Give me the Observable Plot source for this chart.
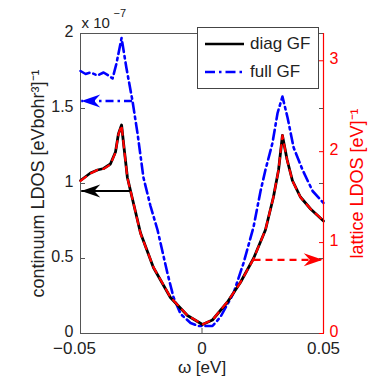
<!DOCTYPE html>
<html><head><meta charset="utf-8">
<script src="https://cdn.jsdelivr.net/npm/d3@7"></script>
<script src="https://cdn.jsdelivr.net/npm/@observablehq/plot@0.6"></script>
<style>
body{margin:0;background:#fff;}
#wrap{position:relative;width:371px;height:379px;font-family:"Liberation Sans",Arial,sans-serif;color:#222;}
#wrap > svg{position:absolute;left:0;top:0;}
#legend{position:absolute;left:197px;top:27px;width:120px;height:60px;border:1px solid #444;background:#fff;font-size:17px;}
#legend .row{position:absolute;left:0;height:20px;display:flex;align-items:center;}
#legend svg{display:block;}
#legend span{margin-left:5px;}
</style></head><body><div id="wrap"></div>
<script>
// ---- data ----
const omegaDiag = [-0.05,-0.0459,-0.0430,-0.0405,-0.0377,-0.0356,-0.0344,-0.0331,-0.0323,-0.0307,-0.0294,-0.0253,-0.0200,-0.0130,-0.0060,0.0002,0.0043,0.0105,0.0158,0.0212,0.0261,0.0294,0.0315,0.0331,0.0350,0.0372,0.0405,0.0447,0.0500];
const diagGF     = [1.02,1.07,1.09,1.10,1.13,1.21,1.33,1.39,1.27,1.04,0.95,0.67,0.44,0.24,0.12,0.06,0.09,0.21,0.34,0.50,0.69,0.91,1.09,1.32,1.16,1.02,0.91,0.83,0.75];
const latticeGF  = [1.68,1.76,1.80,1.81,1.86,1.99,2.19,2.29,2.09,1.71,1.57,1.10,0.73,0.40,0.20,0.10,0.15,0.35,0.56,0.82,1.14,1.50,1.80,2.18,1.91,1.68,1.50,1.37,1.24];
const omegaFull = [-0.05,-0.0479,-0.0459,-0.0430,-0.0405,-0.0385,-0.0368,-0.0352,-0.0331,-0.0311,-0.0286,-0.0265,-0.0241,-0.0212,-0.0183,-0.0142,-0.0117,-0.0088,-0.0047,-0.0014,0.0014,0.0043,0.0076,0.0130,0.0171,0.0212,0.0241,0.0261,0.0290,0.0311,0.0331,0.0352,0.0377,0.0414,0.0455,0.0500];
const fullGF    = [1.75,1.73,1.74,1.72,1.74,1.72,1.70,1.80,1.97,1.77,1.55,1.33,1.04,0.85,0.69,0.40,0.24,0.13,0.07,0.05,0.05,0.05,0.11,0.27,0.47,0.71,0.95,1.09,1.27,1.47,1.58,1.44,1.24,1.09,0.95,0.87];
const xDomain = [-0.05, 0.05];
const xTicks = [-0.05, 0, 0.05];
const yLeftDomain = [0, 2];
const yLeftTicks = [0, 0.5, 1, 1.5, 2];
const yRightDomain = [0, 3.3];
const yRightTicks = [0, 1, 2, 3];
const arrowSeries = ["diag GF", "full GF"];
const arrowFrom = [-0.0294, -0.0288];
const arrowTo = [-0.0497, -0.0497];
const arrowLevel = [0.95, 1.55];
const latticeArrowFrom = [0.0212];
const latticeArrowTo = [0.0497];
const latticeArrowLevel = [0.81];

const diagData = omegaDiag.map((x,i)=>({x, y: diagGF[i]}));
const latticeData = omegaDiag.map((x,i)=>({x, y: latticeGF[i]}));
const fullData = omegaFull.map((x,i)=>({x, y: fullGF[i]}));
const contArrows = arrowSeries.map((s,i)=>({series:s, from:arrowFrom[i], to:arrowTo[i], y:arrowLevel[i]}));
const latArrows = latticeArrowFrom.map((f,i)=>({from:f, to:latticeArrowTo[i], y:latticeArrowLevel[i]}));

const head = {draw(ctx){ ctx.moveTo(0,0); ctx.lineTo(19,-6.5); ctx.lineTo(13,0); ctx.lineTo(19,6.5); ctx.closePath(); }};

const common = {width:371, height:379, marginTop:33, marginRight:48, marginBottom:46, marginLeft:80};
const font = "Liberation Sans, Arial, sans-serif";
const fmtX = d => d === 0 ? "0" : (d < 0 ? "\u2212" : "") + Math.abs(d).toFixed(2);

const p1 = Plot.plot({
  ...common,
  style:{fontFamily:font, fontSize:"17px", background:"white", color:"#222"},
  x:{domain:xDomain},
  y:{domain:yLeftDomain},
  marks:[
    Plot.frame({stroke:"#555"}),
    Plot.axisX({ticks:xTicks.filter(d=>d<0), tickFormat:fmtX, tickSize:0, tickPadding:8, dx:-6, label:null}),
    Plot.axisX({ticks:xTicks.filter(d=>d>=0), tickFormat:fmtX, tickSize:0, tickPadding:8, label:null}),
    Plot.axisX({ticks:xTicks, tickSize:-5, fill:"none", label:null, stroke:"#555"}),
    Plot.axisX({anchor:"top", ticks:xTicks, tickSize:-5, fill:"none", label:null, stroke:"#555"}),
    Plot.axisY({ticks:yLeftTicks, tickFormat:d=>String(d), tickSize:0, tickPadding:7, dy:-1.5, fontSize:16, label:null}),
    Plot.axisY({ticks:yLeftTicks, tickSize:-5, fill:"none", label:null, stroke:"#555"}),
    Plot.axisY({anchor:"right", ticks:yLeftTicks, tickSize:-5, fill:"none", label:null, stroke:"#555"}),
    Plot.line(fullData, {x:"x", y:"y", stroke:"#0000ff", strokeWidth:2.6, strokeDasharray:"10,4,2.5,4"}),
    Plot.line(diagData, {x:"x", y:"y", stroke:"black", strokeWidth:2.8}),
    Plot.link(contArrows.filter(d=>d.series==="diag GF"), {x1:"from", x2:"to", y1:"y", y2:"y", stroke:"black", strokeWidth:2.2}),
    Plot.link(contArrows.filter(d=>d.series==="full GF"), {x1:"from", x2:"to", y1:"y", y2:"y", stroke:"#0000ff", strokeWidth:2.4, strokeDasharray:"8,4,2.5,4"}),
    Plot.dot(contArrows, {x:"to", y:"y", symbol:head, fill:d=>d.series==="diag GF"?"black":"#0000ff", stroke:"none"}),
    Plot.text(["continuum LDOS [eVbohr\u00b3]\u207b\u00b9"], {frameAnchor:"left", textAnchor:"middle", lineAnchor:"middle", rotate:-90, dx:-42, fontSize:18, fill:"#222"}),
    Plot.text(["\u03c9 [eV]"], {frameAnchor:"bottom", textAnchor:"middle", lineAnchor:"middle", dy:34, fontSize:17, fill:"#222"}),
    Plot.text(["x 10"], {frameAnchor:"top-left", textAnchor:"start", lineAnchor:"bottom", dx:1, dy:-6, fontSize:15, fill:"#222"}),
    Plot.text(["\u22127"], {frameAnchor:"top-left", textAnchor:"start", lineAnchor:"bottom", dx:33, dy:-17, fontSize:11, fill:"#222"})
  ]
});

const p2 = Plot.plot({
  ...common,
  style:{fontFamily:font, fontSize:"17px", background:"transparent", color:"red"},
  x:{domain:xDomain, axis:null},
  y:{domain:yRightDomain, axis:null},
  marks:[
    Plot.ruleX([xDomain[1]], {stroke:"red", strokeWidth:1.2}),
    Plot.axisY({anchor:"right", ticks:yRightTicks, tickFormat:d=>String(d), tickSize:0, tickPadding:6, dy:-1.5, fontSize:16, label:null, fill:"red"}),
    Plot.axisY({anchor:"right", ticks:yRightTicks, tickSize:-5, fill:"none", label:null, stroke:"red"}),
    Plot.line(latticeData, {x:"x", y:"y", stroke:"red", strokeWidth:2.2, strokeDasharray:"7,6"}),
    Plot.link(latArrows, {x1:"from", x2:"to", y1:"y", y2:"y", stroke:"red", strokeWidth:2.2, strokeDasharray:"7,5"}),
    Plot.dot(latArrows, {x:"to", y:"y", symbol:head, rotate:180, fill:"red", stroke:"none"}),
    Plot.text(["lattice LDOS [eV]\u207b\u00b9"], {frameAnchor:"right", textAnchor:"middle", lineAnchor:"middle", rotate:-90, dx:34, fontSize:18, fill:"red"})
  ]
});

const wrap = document.getElementById("wrap");
wrap.appendChild(p1);
wrap.appendChild(p2);

// legend
const legend = document.createElement("div");
legend.id = "legend";
const items = [
  {label:"diag GF", color:"black", dash:null, top:6},
  {label:"full GF", color:"#0000ff", dash:"10,4,2.5,4", top:34}
];
for (const it of items) {
  const row = document.createElement("div");
  row.className = "row";
  row.style.top = it.top + "px";
  row.style.left = "7px";
  row.innerHTML = `<svg width="40" height="10"><line x1="0" y1="5" x2="39" y2="5" stroke="${it.color}" stroke-width="2.6" ${it.dash?`stroke-dasharray="${it.dash}"`:""}/></svg><span>${it.label}</span>`;
  legend.appendChild(row);
}
wrap.appendChild(legend);
</script></body></html>
